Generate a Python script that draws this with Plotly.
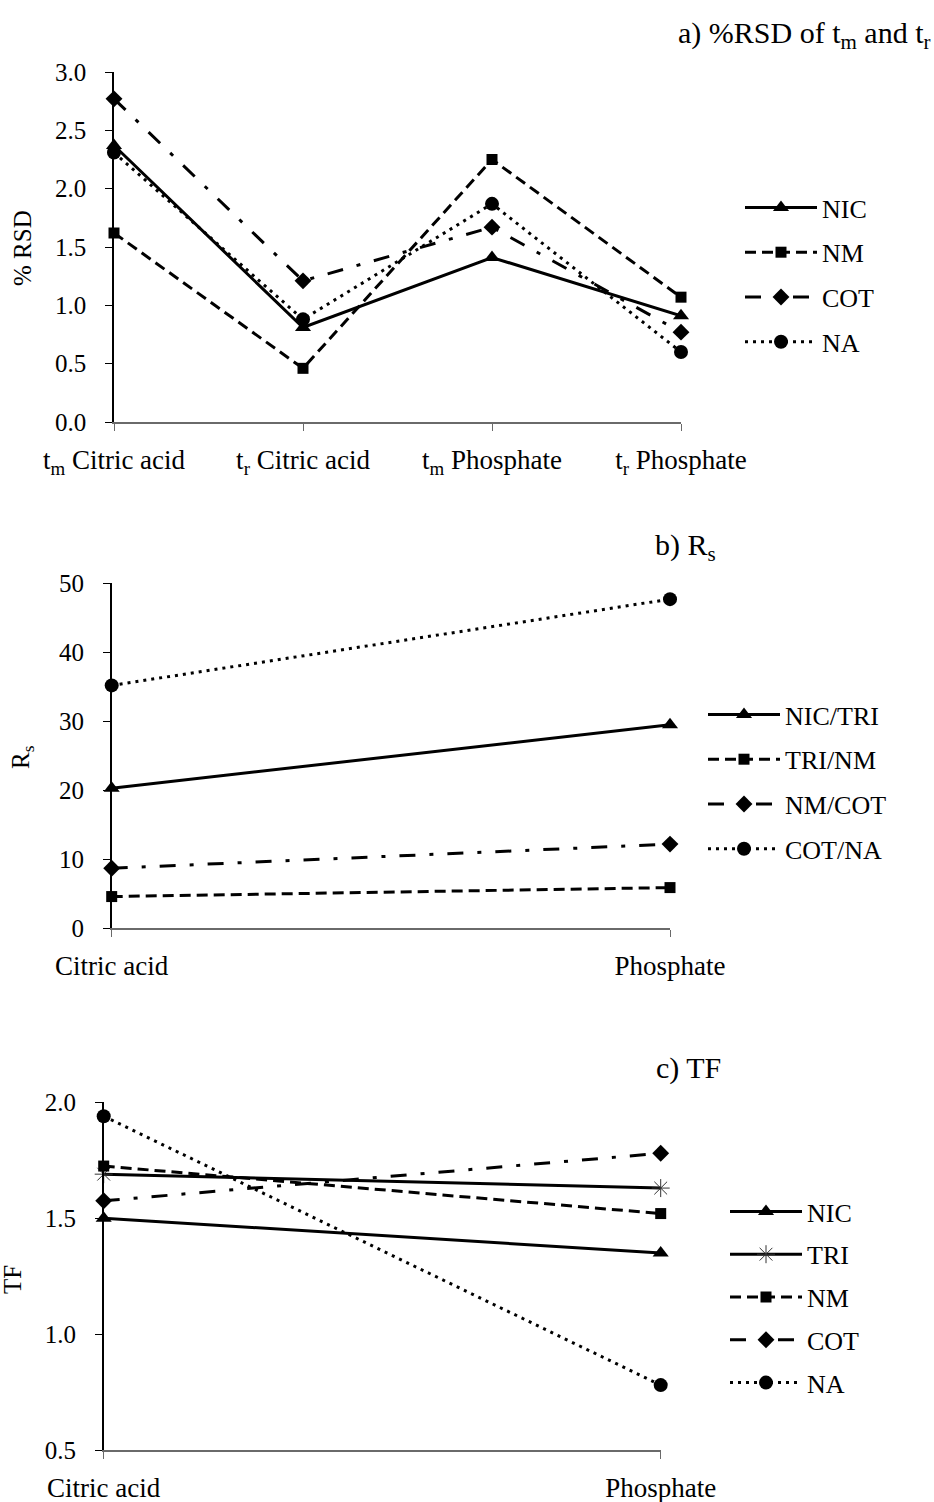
import plotly.graph_objects as go

W, H = 934, 1502

# ---- panel a: %RSD of migration / retention time ----
rsd_categories = ["t<sub>m</sub> Citric acid", "t<sub>r</sub> Citric acid",
                  "t<sub>m</sub> Phosphate", "t<sub>r</sub> Phosphate"]
rsd_nic = [2.37, 0.81, 1.41, 0.91]
rsd_nm = [1.62, 0.46, 2.25, 1.07]
rsd_cot = [2.77, 1.21, 1.67, 0.77]
rsd_na = [2.31, 0.88, 1.87, 0.60]

# ---- panel b: resolution ----
rs_categories = ["Citric acid", "Phosphate"]
rs_nic_tri = [20.3, 29.5]
rs_tri_nm = [4.6, 5.9]
rs_nm_cot = [8.7, 12.2]
rs_cot_na = [35.2, 47.7]

# ---- panel c: tailing factor ----
tf_categories = ["Citric acid", "Phosphate"]
tf_nic = [1.50, 1.35]
tf_tri = [1.69, 1.63]
tf_nm = [1.725, 1.52]
tf_cot = [1.575, 1.78]
tf_na = [1.94, 0.78]

FONT = "Times New Roman, Liberation Serif, serif"

# line styles per series
SOLID = dict(color="black", width=3)
DASH = dict(color="black", width=3, dash="11px,6px")
DASHDOT = dict(color="black", width=3, dash="16px,14px,4px,14px")
DOT = dict(color="black", width=3, dash="3px,5px")

TRI = dict(symbol="triangle-up", size=14, color="black")
SQR = dict(symbol="square", size=11, color="black")
DIA = dict(symbol="diamond", size=13, color="black")
CIR = dict(symbol="circle", size=14, color="black")
AST = dict(symbol="asterisk-open", size=15, color="#333",
           line=dict(color="#333", width=1))

fig = go.Figure()


def add(x, y, name, line, marker, xa, ya, leg):
    fig.add_trace(go.Scatter(
        x=x, y=y, name=name, mode="lines+markers", line=line, marker=marker,
        xaxis=xa, yaxis=ya, legend=leg, legendgroup=leg + name,
        cliponaxis=False))


add(rsd_categories, rsd_nic, "NIC", SOLID, TRI, "x", "y", "legend")
add(rsd_categories, rsd_nm, "NM", DASH, SQR, "x", "y", "legend")
add(rsd_categories, rsd_cot, "COT", DASHDOT, DIA, "x", "y", "legend")
add(rsd_categories, rsd_na, "NA", DOT, CIR, "x", "y", "legend")

add(rs_categories, rs_nic_tri, "NIC/TRI", SOLID, TRI, "x2", "y2", "legend2")
add(rs_categories, rs_tri_nm, "TRI/NM", DASH, SQR, "x2", "y2", "legend2")
add(rs_categories, rs_nm_cot, "NM/COT", DASHDOT, DIA, "x2", "y2", "legend2")
add(rs_categories, rs_cot_na, "COT/NA", DOT, CIR, "x2", "y2", "legend2")

add(tf_categories, tf_nic, "NIC", SOLID, TRI, "x3", "y3", "legend3")
add(tf_categories, tf_tri, "TRI", dict(color="black", width=3), AST, "x3", "y3", "legend3")
add(tf_categories, tf_nm, "NM", DASH, SQR, "x3", "y3", "legend3")
add(tf_categories, tf_cot, "COT", DASHDOT, DIA, "x3", "y3", "legend3")
add(tf_categories, tf_na, "NA", DOT, CIR, "x3", "y3", "legend3")


def px_x(v):
    return v / W


def px_y(v):
    return 1 - v / H


def xaxis(x0, x1, n):
    return dict(domain=[px_x(x0), px_x(x1)], type="category", range=[0, n - 1],
                showgrid=False, zeroline=False, showline=True, linecolor="#6a6a6a",
                linewidth=1.5, ticks="outside", ticklen=7, tickcolor="#6a6a6a",
                tickfont=dict(family=FONT, size=27, color="black"),
                ticklabelstandoff=6, automargin=False, fixedrange=True)


def yaxis(y0, y1, rng, dtick, fmt, anchor):
    return dict(domain=[px_y(y0), px_y(y1)], range=rng, dtick=dtick, tickformat=fmt,
                showgrid=False, zeroline=False, showline=True, linecolor="black",
                linewidth=1.5, ticks="outside", ticklen=7, tickcolor="black",
                tickfont=dict(family=FONT, size=25, color="black"),
                ticklabelstandoff=14, anchor=anchor, automargin=False, fixedrange=True)


def legend(x, y, gap):
    return dict(x=px_x(x), y=px_y(y), xanchor="left", yanchor="top",
                font=dict(family=FONT, size=26, color="black"),
                tracegroupgap=gap, itemwidth=72, bgcolor="rgba(0,0,0,0)")


fig.update_layout(
    width=W, height=H, margin=dict(l=0, r=0, t=0, b=0, autoexpand=False),
    paper_bgcolor="white", plot_bgcolor="white",
    xaxis=dict(xaxis(114, 681, 4), anchor="y"),
    yaxis=yaxis(422, 72, [0, 3], 0.5, ".1f", "x"),
    xaxis2=dict(xaxis(111.7, 670, 2), anchor="y2"),
    yaxis2=yaxis(928.3, 583.3, [0, 50], 10, "d", "x2"),
    xaxis3=dict(xaxis(103.7, 660.7, 2), anchor="y3"),
    yaxis3=yaxis(1450, 1102.3, [0.5, 2.0], 0.5, ".1f", "x3"),
    legend=legend(740, 184, 8),
    legend2=legend(703, 691, 8),
    legend3=legend(725, 1188, 6),
    showlegend=True,
)

annots = [
    ("a) %RSD of t<sub>m</sub> and t<sub>r</sub>", 932, 35, "right", 0, 30),
    ("b) R<sub>s</sub>", 685, 547, "center", 0, 30),
    ("c) TF", 688, 1068, "center", 0, 30),
    ("% RSD", 22, 248, "center", -90, 25),
    ("R<sub>s</sub>", 22, 757, "center", -90, 25),
    ("TF", 12, 1280, "center", -90, 25),
]
for text, x, y, xa, ang, size in annots:
    fig.add_annotation(text=text, x=px_x(x), y=px_y(y), xref="paper", yref="paper",
                       xanchor=xa, yanchor="middle", textangle=ang, showarrow=False,
                       font=dict(family=FONT, size=size, color="black"))

fig.write_html("out.html")
